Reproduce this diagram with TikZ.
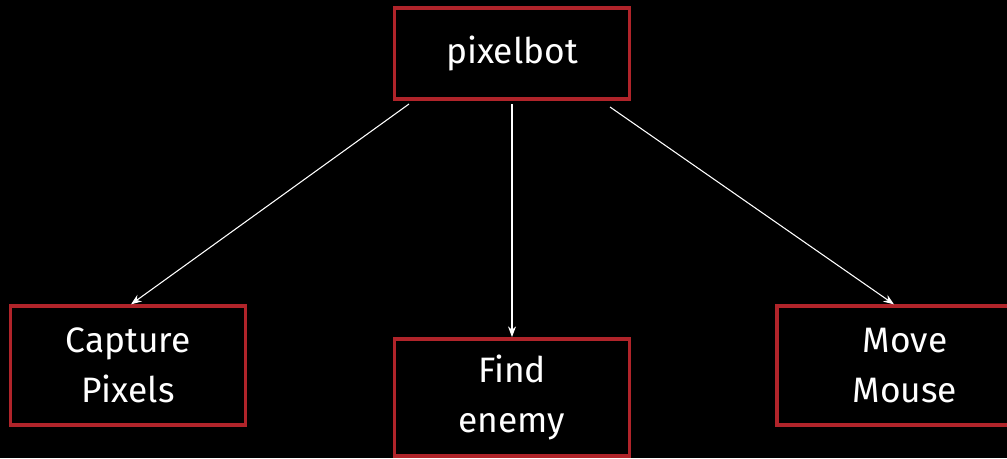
\documentclass[tikz,border=0pt]{standalone}
\usepackage{fontspec}
\setmainfont{Fira Sans}
\usetikzlibrary{arrows.meta}
\definecolor{boxred}{HTML}{B0242A}
\begin{document}
\begin{tikzpicture}[x=0.75pt, y=-0.75pt,
  box/.style={draw=boxred, line width=2.7pt, fill=black, text=white,
    minimum width=176pt, align=center, inner sep=0pt,
    font=\fontsize{26.5}{37.5}\selectfont},
  link/.style={white, line width=0.8pt, -{Stealth[length=8pt, width=6pt]}}]
  \fill[black] (0,0) rectangle (1007,458);
  \useasboundingbox (0,0) rectangle (1007,458);
  \node[box, minimum height=68pt] (pixelbot) at (512,53.5) {pixelbot};
  \node[box, minimum height=89pt] (capture) at (128,365.5) {Capture\\Pixels};
  \node[box, minimum height=88pt] (find) at (512,397.5) {Find\\enemy};
  % right box runs past the edge of the page
  \node[box, minimum height=89pt, minimum width=192pt] (move) at (905,365.5) {Move\\Mouse};
  \coordinate (fromL) at (409,104);
  \coordinate (fromM) at (512,104);
  \coordinate (fromR) at (610,107);
  \draw[link] (fromL) -- (capture.north -| 131,0);
  \draw[link] (fromM) -- (find.north);
  \draw[link] (fromR) -- (move.north -| 894,0);
\end{tikzpicture}
\end{document}
